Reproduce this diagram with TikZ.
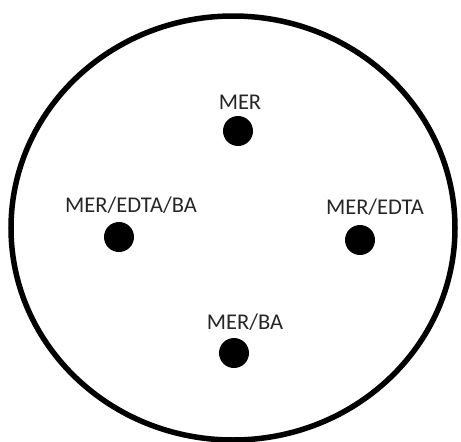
\documentclass[tikz,border=0pt]{standalone}
\usepackage{fontspec}
\setmainfont{Carlito}
\begin{document}
\begin{tikzpicture}[x=1pt,y=-1pt,
  spot/.style={circle,fill=black,inner sep=0pt,minimum size=30pt},
  lbl/.style={font=\fontsize{22.5}{26}\selectfont,inner sep=0pt,text=black!85}]
\useasboundingbox (0,0) rectangle (461,442);
\draw[line width=5.5pt] (233,228) ellipse[x radius=222,y radius=212];
\node[spot] (d1) at (238,131) {};
\node[spot] (d2) at (119,237) {};
\node[spot] (d3) at (360,240) {};
\node[spot] (d4) at (234,353) {};
\node[lbl] (l1) at (240,102) {MER};
\node[lbl] (l2) at (131,205) {MER/EDTA/BA};
\node[lbl] (l3) at (375,207) {MER/EDTA};
\node[lbl] (l4) at (245,322) {MER/BA};
\end{tikzpicture}
\end{document}
